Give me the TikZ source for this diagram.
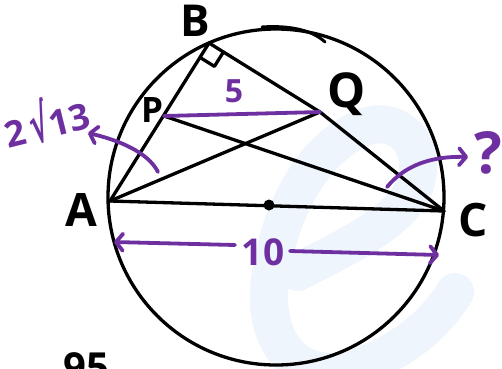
\documentclass[tikz,border=0pt]{standalone}
\usepackage{fontspec}
\setmainfont{Open Sans}
\newfontfamily\djv{DejaVu Sans}
\usetikzlibrary{arrows.meta,calc}
\definecolor{pur}{RGB}{110,48,160}
\definecolor{wm}{RGB}{238,245,252}
\begin{document}
\begin{tikzpicture}[x=1pt,y=-1pt,
  blk/.style={line width=3.3pt, line join=round, line cap=round},
  pl/.style={pur, line width=3.8pt, line cap=round},
  parrow/.style={pl, -{Straight Barb[length=7pt,width=17pt,round]}},
  lbl/.style={inner sep=0pt, font=\fontsize{#1}{#1}\selectfont\bfseries}
]
\useasboundingbox (0,0) rectangle (502,368);
% watermark
\draw[wm, line width=38pt, line cap=round, line join=round]
  (298,272) .. controls (340,250) and (395,225) .. (412,192)
  .. controls (432,150) and (400,112) .. (362,128)
  .. controls (310,150) and (278,215) .. (270,280)
  .. controls (262,345) and (300,385) .. (355,368)
  .. controls (405,352) and (438,320) .. (455,292);
% points
\coordinate (A) at (110,201);
\coordinate (B) at (209,43);
\coordinate (C) at (444,211);
\coordinate (P) at (164,116);
\coordinate (Q) at (320,112);
\coordinate (O) at (269,205);
% circle
\draw[blk] (276,197) circle[radius=168];
\draw[blk, line width=3pt] (262,27) .. controls (292,25) and (313,31) .. (325,42);
% lines
\draw[blk] (A) -- (B) -- (Q) -- (C);
\draw[blk] (A) -- (C);
\draw[blk] (A) -- (Q);
\draw[blk] (P) -- (C);
% right angle
\coordinate (r1) at ($(B)!17pt!(A)$);
\coordinate (r3) at ($(B)!17pt!(Q)$);
\draw[blk] (r1) -- ($(r1)+(r3)-(B)$) -- (r3);
\fill (O) circle[radius=5.5];
% purple
\draw[pl] (P) -- (Q);
\draw[parrow] (158,172) .. controls (148,152) and (118,140) .. (88,133);
\draw[parrow] (387,187) .. controls (405,165) and (432,156) .. (468,157);
\draw[parrow] (235,245) -- (114,242);
\draw[parrow] (290,251) -- (439,255);
% labels
\node[lbl=44] (lB) at (195,21) {B};
\node[lbl=46] (lA) at (81,210) {A};
\node[lbl=46] (lC) at (473,220) {C};
\node[lbl=35] (lP) at (152,110) {P};
\node[lbl=48] (lQ) at (347,94) {Q};
\node[lbl=32, text=pur] (l5) at (234,91) {5};
\node[lbl=37, text=pur] (l10) at (263,252) {10};
\node[lbl=36, text=pur, rotate=14] (l213) at (46,120) {2\,\raisebox{-3pt}{\scalebox{0.8}[1.45]{\djv\bfseries √}}13};
\node[lbl=58, text=pur] (lq) at (488,153) {?};
\node[lbl=40, anchor=north west] (l95) at (63,352) {95};
\end{tikzpicture}
\end{document}
